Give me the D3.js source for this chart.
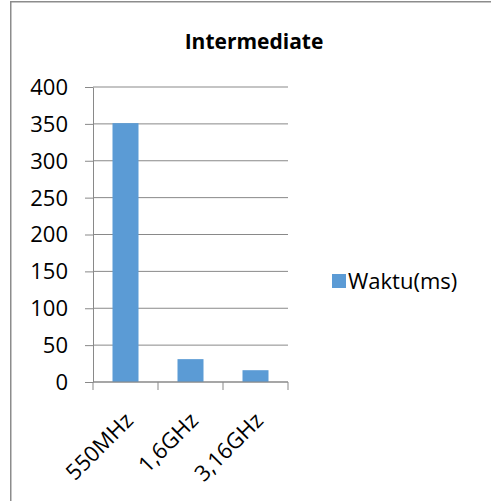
<!DOCTYPE html>
<html>
<head>
<meta charset="utf-8">
<script src="https://cdn.jsdelivr.net/npm/d3@7"></script>
<style>
  body { margin: 0; background: #fff; overflow: hidden; }
  text { font-family: "Open Sans", "Noto Sans", sans-serif; fill: #000; }
</style>
</head>
<body>
<div id="chart"></div>
<script>
const categories = ["550MHz", "1,6GHz", "3,16GHz"];
const waktu = [351, 31, 16];
const yTicks = [0, 50, 100, 150, 200, 250, 300, 350, 400];
const seriesName = "Waktu(ms)";
const title = "Intermediate";

const width = 491, height = 501;
const margin = { top: 87, left: 93, right: 203, bottom: 119 };
const innerWidth = width - margin.left - margin.right;
const innerHeight = height - margin.top - margin.bottom;
const barColor = "#5b9bd5";
const gridColor = "#898989";

const svg = d3.select("#chart").append("svg")
  .attr("width", width)
  .attr("height", height)
  .style("display", "block");

// chart frame (only top and left edges are visible)
svg.append("path")
  .attr("d", `M10.75,${height}V1.75H${width}`)
  .attr("fill", "none")
  .attr("stroke", "#8c8c8c")
  .attr("stroke-width", 1.5);

svg.append("text")
  .attr("x", 254).attr("y", 49)
  .attr("text-anchor", "middle")
  .attr("font-size", 21)
  .attr("font-weight", "bold")
  .text(title);

const innerChart = svg.append("g")
  .attr("transform", `translate(${margin.left}, ${margin.top})`);

const xScale = d3.scaleBand()
  .domain(categories)
  .range([0, innerWidth])
  .paddingInner(0.6)
  .paddingOuter(0.3);

const yScale = d3.scaleLinear()
  .domain([0, 400])
  .range([innerHeight, 0]);

// gridlines
innerChart.selectAll(".grid")
  .data(yTicks)
  .join("line")
    .attr("class", "grid")
    .attr("x1", 0).attr("x2", innerWidth)
    .attr("y1", d => yScale(d)).attr("y2", d => yScale(d))
    .attr("stroke", gridColor);

innerChart.selectAll(".bar")
  .data(waktu)
  .join("rect")
    .attr("class", "bar")
    .attr("x", (d, i) => xScale(categories[i]))
    .attr("y", d => yScale(d))
    .attr("width", xScale.bandwidth())
    .attr("height", d => innerHeight - yScale(d))
    .attr("fill", barColor);

// y axis
const yAxis = innerChart.append("g")
  .call(d3.axisLeft(yScale).tickValues(yTicks).tickSize(8).tickPadding(17).tickSizeOuter(0));
yAxis.selectAll("line, path").attr("stroke", gridColor);
yAxis.selectAll("text")
  .attr("font-size", 22)
  .attr("font-family", "Open Sans, sans-serif")
  .attr("dy", "0.34em");

// x axis with ticks at category boundaries
const xAxisG = innerChart.append("g")
  .attr("transform", `translate(0, ${innerHeight})`);
xAxisG.append("line")
  .attr("x1", 0).attr("x2", innerWidth)
  .attr("stroke", gridColor);
xAxisG.selectAll(".xtick")
  .data(d3.range(categories.length + 1))
  .join("line")
    .attr("class", "xtick")
    .attr("x1", i => i * innerWidth / categories.length)
    .attr("x2", i => i * innerWidth / categories.length)
    .attr("y1", 0).attr("y2", 8)
    .attr("stroke", gridColor);
xAxisG.selectAll(".xlabel")
  .data(categories)
  .join("text")
    .attr("class", "xlabel")
    .attr("text-anchor", "end")
    .attr("font-size", 22)
    .attr("transform", d => `translate(${xScale(d) + xScale.bandwidth() / 2 + 9}, 40) rotate(-45)`)
    .text(d => d);

// legend
const legend = svg.append("g").attr("transform", "translate(332, 274)");
legend.append("rect")
  .attr("width", 14).attr("height", 14)
  .attr("fill", barColor);
legend.append("text")
  .attr("x", 16).attr("y", 15)
  .attr("font-size", 22)
  .text(seriesName);
</script>
</body>
</html>
